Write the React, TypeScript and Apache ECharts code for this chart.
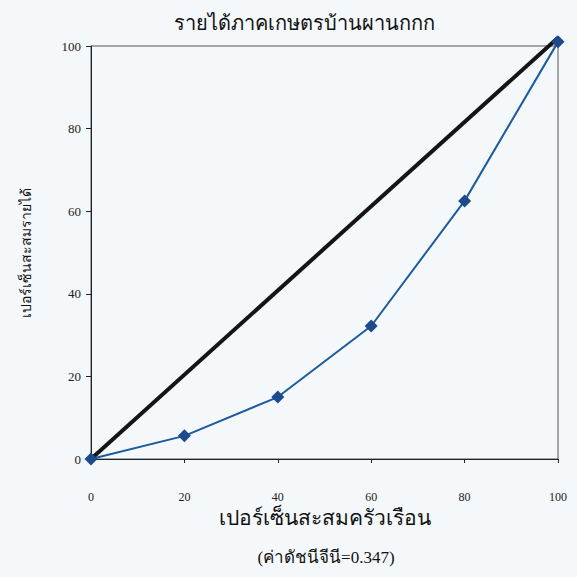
import React, { useEffect, useRef } from "react";
import * as echarts from "echarts";

const titleText = "รายได้ภาคเกษตรบ้านผานกกก";
const xName = "เปอร์เซ็นสะสมครัวเรือน";
const yName = "เปอร์เซ็นสะสมรายได้";
const giniText = "(ค่าดัชนีจีนี=0.347)";

const householdPct = [0, 20, 40, 60, 80, 100];
const incomePct = [0, 5.6, 15, 32.2, 62.5, 101];
const equalityX = [0, 100];
const equalityY = [0, 102];

const SERIF = "'Liberation Serif', 'Times New Roman', 'DejaVu Serif', serif";

export default function App() {
  const ref = useRef<HTMLDivElement>(null);
  useEffect(() => {
    if (!ref.current) return;
    const chart = echarts.init(ref.current, undefined, { renderer: "svg" });
    chart.setOption({
      animation: false,
      backgroundColor: "#f5f8fb",
      title: {
        text: titleText,
        left: 299,
        textAlign: "center",
        top: 8,
        textStyle: { fontFamily: SERIF, fontSize: 20, fontWeight: "normal", color: "#111" },
      },
      grid: {
        left: 91,
        right: 19,
        top: 46,
        bottom: 118,
        show: true,
        borderColor: "#555",
        borderWidth: 1,
        backgroundColor: "transparent",
      },
      xAxis: {
        type: "value",
        min: 0,
        max: 100,
        interval: 20,
        name: xName,
        nameLocation: "middle",
        nameGap: 48,
        nameTextStyle: { fontFamily: SERIF, fontSize: 21, color: "#111" },
        axisLine: { show: true, lineStyle: { color: "#222", width: 1 } },
        axisTick: { show: true, length: 4, lineStyle: { color: "#222" } },
        axisLabel: { margin: 32, fontFamily: SERIF, fontSize: 12, color: "#222" },
        splitLine: { show: false },
      },
      yAxis: {
        type: "value",
        min: 0,
        max: 100,
        interval: 20,
        name: yName,
        nameLocation: "middle",
        nameRotate: 90,
        nameGap: 58,
        nameTextStyle: { fontFamily: SERIF, fontSize: 14, color: "#111" },
        axisLine: { show: true, lineStyle: { color: "#222", width: 1 } },
        axisTick: { show: true, length: 5, lineStyle: { color: "#222" } },
        axisLabel: { margin: 10, fontFamily: SERIF, fontSize: 13, color: "#222" },
        splitLine: { show: false },
      },
      graphic: [
        {
          type: "text",
          x: 326,
          y: 557,
          style: {
            text: giniText,
            font: `17px ${SERIF}`,
            fill: "#111",
            textAlign: "center",
            textVerticalAlign: "middle",
          },
        },
      ],
      series: [
        {
          type: "line",
          data: equalityX.map((x, i) => [x, equalityY[i]]),
          showSymbol: false,
          symbol: "none",
          clip: false,
          lineStyle: { color: "#151515", width: 4 },
          z: 2,
        },
        {
          type: "line",
          data: householdPct.map((x, i) => [x, incomePct[i]]),
          symbol: "diamond",
          symbolSize: 13,
          clip: false,
          lineStyle: { color: "#1a5b9e", width: 2 },
          itemStyle: { color: "#1c4a8c" },
          z: 3,
        },
      ],
    });
    return () => chart.dispose();
  }, []);
  return (
    <div
      ref={ref}
      style={{ position: "absolute", left: 0, top: 0, width: 577, height: 577 }}
    />
  );
}
